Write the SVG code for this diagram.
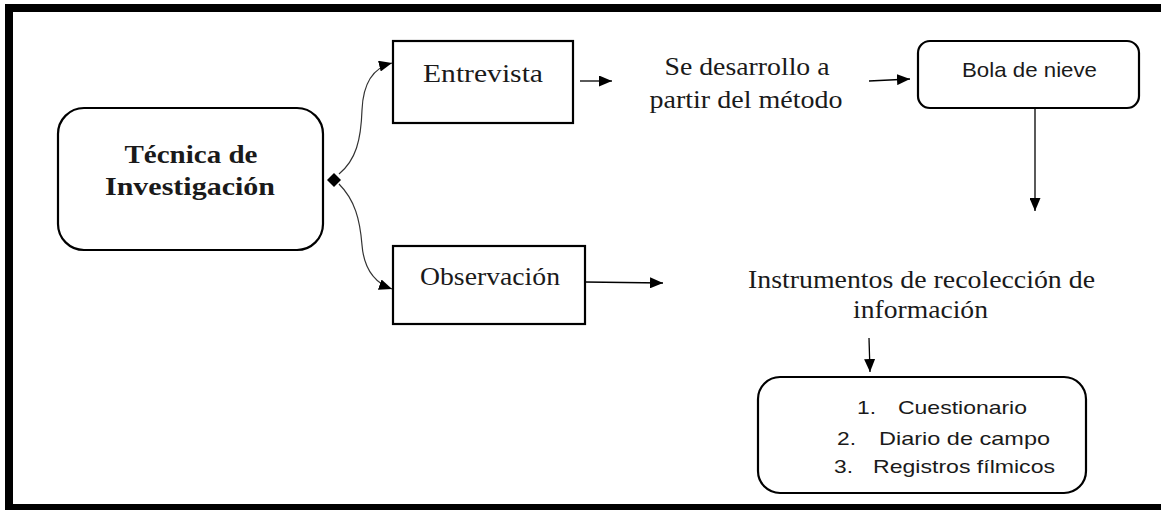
<svg xmlns="http://www.w3.org/2000/svg" width="1161" height="510" viewBox="0 0 1161 510">
<style>
.box{fill:#fff;stroke:#000;stroke-width:2.2}
.serif{font-family:"Liberation Serif","Times New Roman",serif;fill:#1a1a1a}
.sans{font-family:"Liberation Sans",Arial,sans-serif;fill:#1a1a1a}
.conn{fill:none;stroke:#000;stroke-width:1.3}
.curve{fill:none;stroke:#333;stroke-width:1.2}
</style>
<defs>
<marker id="ah" markerUnits="userSpaceOnUse" markerWidth="13" markerHeight="11" refX="13" refY="5.5" orient="auto">
<path d="M0,0 L13,5.5 L0,11 z" fill="#000"/>
</marker>
</defs>
<rect x="0" y="0" width="1161" height="510" fill="#fff"/>
<g id="frame" fill="#000">
<rect x="5" y="4" width="1156" height="8"/>
<rect x="5" y="4" width="8" height="506"/>
<rect x="5" y="504" width="1156" height="6"/>
</g>
<g id="tecnica">
<rect class="box" x="58" y="108" width="265" height="142" rx="26"/>
<text class="serif" font-size="26" font-weight="bold" x="191" y="163" text-anchor="middle" textLength="133" lengthAdjust="spacingAndGlyphs">Técnica de</text>
<text class="serif" font-size="26" font-weight="bold" x="190" y="195" text-anchor="middle" textLength="170" lengthAdjust="spacingAndGlyphs">Investigación</text>
</g>
<g id="entrevista">
<rect class="box" x="393" y="41" width="180" height="82"/>
<text class="serif" font-size="26" x="483" y="82" text-anchor="middle" textLength="120" lengthAdjust="spacingAndGlyphs">Entrevista</text>
</g>
<g id="observacion">
<rect class="box" x="393" y="246" width="192" height="78"/>
<text class="serif" font-size="26" x="490" y="285" text-anchor="middle" textLength="140" lengthAdjust="spacingAndGlyphs">Observación</text>
</g>
<g id="desarrollo">
<text class="serif" font-size="24.5" x="747" y="75" text-anchor="middle" textLength="165" lengthAdjust="spacingAndGlyphs">Se desarrollo a</text>
<text class="serif" font-size="24.5" x="746" y="108" text-anchor="middle" textLength="193" lengthAdjust="spacingAndGlyphs">partir del método</text>
</g>
<g id="bola">
<rect class="box" x="918" y="41" width="221" height="67" rx="12"/>
<text class="sans" font-size="21" x="1029.5" y="77" text-anchor="middle" textLength="135" lengthAdjust="spacingAndGlyphs">Bola de nieve</text>
</g>
<g id="instrumentos">
<text class="serif" font-size="24.5" x="921.5" y="288" text-anchor="middle" textLength="347" lengthAdjust="spacingAndGlyphs">Instrumentos de recolección de</text>
<text class="serif" font-size="24.5" x="920.5" y="318" text-anchor="middle" textLength="135" lengthAdjust="spacingAndGlyphs">información</text>
</g>
<g id="lista">
<rect class="box" x="758" y="377" width="328" height="116" rx="22"/>
<text class="sans" font-size="19" x="857" y="414" textLength="19" lengthAdjust="spacingAndGlyphs">1.</text>
<text class="sans" font-size="19" x="898" y="414" textLength="129" lengthAdjust="spacingAndGlyphs">Cuestionario</text>
<text class="sans" font-size="19" x="837" y="445" textLength="19" lengthAdjust="spacingAndGlyphs">2.</text>
<text class="sans" font-size="19" x="879" y="445" textLength="171" lengthAdjust="spacingAndGlyphs">Diario de campo</text>
<text class="sans" font-size="19" x="834" y="473" textLength="19" lengthAdjust="spacingAndGlyphs">3.</text>
<text class="sans" font-size="19" x="873" y="473" textLength="182" lengthAdjust="spacingAndGlyphs">Registros fílmicos</text>
</g>
<g id="connectors">
<path class="curve" d="M339,174 C356,160 361,140 362,110 C363,85 372,68 392,63" marker-end="url(#ah)"/>
<path class="curve" d="M339,184 C355,200 360,220 362,245 C364,270 375,283 392,289" marker-end="url(#ah)"/>
<polygon points="327,180 334,173 341,180 334,187" fill="#000"/>
<line class="conn" x1="580" y1="81" x2="612" y2="81" marker-end="url(#ah)"/>
<line class="conn" x1="869" y1="81" x2="910" y2="79" marker-end="url(#ah)"/>
<line class="conn" x1="1035" y1="108" x2="1035" y2="211" marker-end="url(#ah)"/>
<line class="conn" x1="585" y1="282" x2="663" y2="283" marker-end="url(#ah)"/>
<line class="conn" x1="869" y1="338" x2="870" y2="372" marker-end="url(#ah)"/>
</g>
</svg>
